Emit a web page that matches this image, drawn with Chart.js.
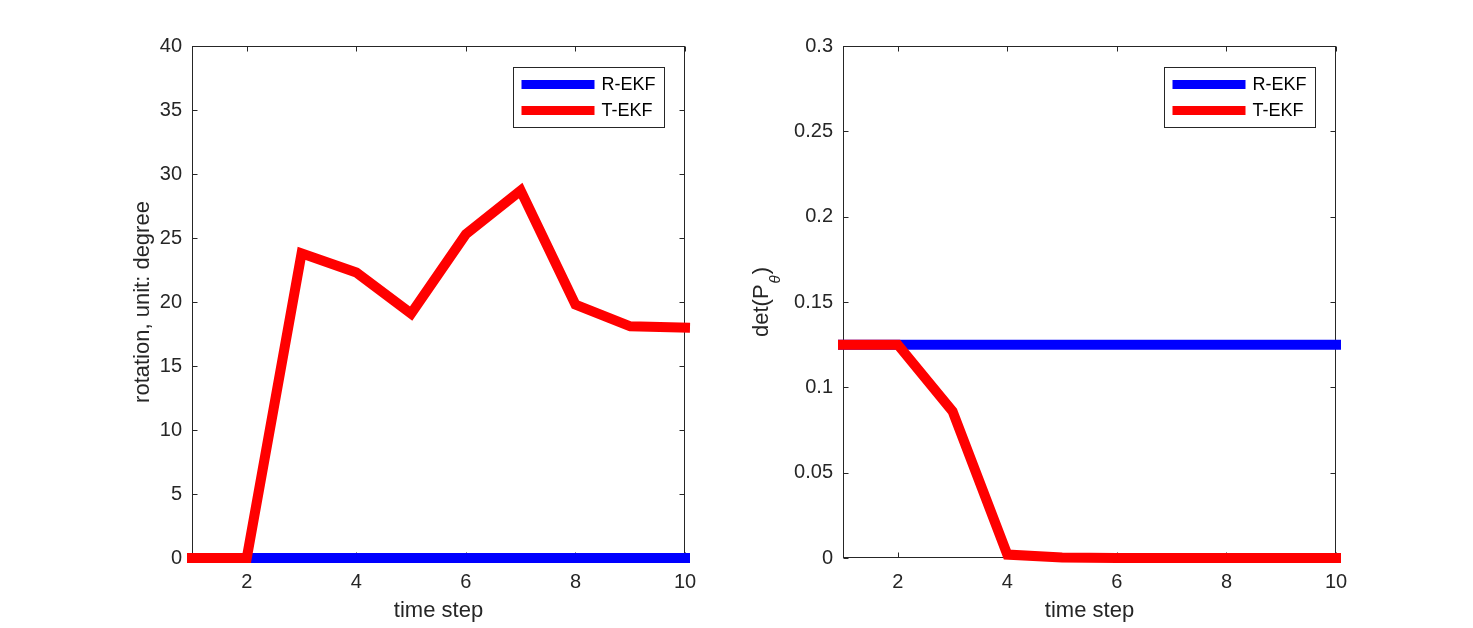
<!DOCTYPE html>
<html>
<head>
<meta charset="utf-8">
<script src="https://cdn.jsdelivr.net/npm/chart.js@4.4.0/dist/chart.umd.min.js"></script>
<style>
    body { margin: 0; background: #fff; }
    #wrap { position: relative; width: 1473px; height: 628px; overflow: hidden; background: #fff; }
    canvas { position: absolute; top: 0; }
</style>
</head>
<body>
<div id="wrap">
    <canvas id="rotChart" width="736" height="628" style="left:0px"></canvas>
    <canvas id="detChart" width="737" height="628" style="left:736px"></canvas>
</div>
<script>
// dados
const timeSteps = [1, 2, 3, 4, 5, 6, 7, 8, 9, 10];
const seriesNames = ['R-EKF', 'T-EKF'];
const rotREKF = [0, 0, 0, 0, 0, 0, 0, 0, 0, 0];
const rotTEKF = [0, 0, 23.8, 22.3, 19.1, 25.3, 28.7, 19.8, 18.1, 18.0];
const detREKF = [0.125, 0.125, 0.125, 0.125, 0.125, 0.125, 0.125, 0.125, 0.125, 0.125];
const detTEKF = [0.125, 0.125, 0.086, 0.002, 0.0003, 0, 0, 0, 0, 0];
const xTicks = [2, 4, 6, 8, 10];
const rotTicks = [0, 5, 10, 15, 20, 25, 30, 35, 40];
const detTicks = [0, 0.05, 0.1, 0.15, 0.2, 0.25, 0.3];
const detTickLabels = ['0', '0.05', '0.1', '0.15', '0.2', '0.25', '0.3'];

const FONT = '"Liberation Sans", Arial, Helvetica, sans-serif';
const AXIS_COLOR = '#262626';

const pts = (ys) => timeSteps.map((x, i) => ({ x: x, y: ys[i] }));

// caixa + marcas de tick para dentro (estilo MATLAB)
const boxPlugin = {
    id: 'boxPlugin',
    beforeDatasetsDraw(chart) {
        const { ctx, chartArea: a, scales } = chart;
        const L = Math.round(a.left) + 0.5, R = Math.round(a.right) - 0.5;
        const T = Math.round(a.top) + 0.5, B = Math.round(a.bottom) - 0.5;
        const len = 5;
        ctx.save();
        ctx.strokeStyle = AXIS_COLOR;
        ctx.lineWidth = 1;
        ctx.beginPath();
        scales.x.ticks.forEach(t => {
            const px = Math.round(scales.x.getPixelForValue(t.value)) + 0.5;
            ctx.moveTo(px, B); ctx.lineTo(px, B - len);
            ctx.moveTo(px, T); ctx.lineTo(px, T + len);
        });
        scales.y.ticks.forEach(t => {
            const py = Math.round(scales.y.getPixelForValue(t.value)) + 0.5;
            ctx.moveTo(L, py); ctx.lineTo(L + len, py);
            ctx.moveTo(R, py); ctx.lineTo(R - len, py);
        });
        ctx.stroke();
        ctx.strokeRect(L, T, R - L, B - T);
        ctx.restore();
    }
};

// legenda com borda dentro da área do gráfico
const legendBoxPlugin = {
    id: 'legendBox',
    afterDatasetsDraw(chart, args, opts) {
        const { ctx, chartArea: a } = chart;
        const w = 151, h = 60;
        const x0 = Math.round(a.right - 21 - w) + 0.5;
        const y0 = Math.round(a.top + 21) + 0.5;
        ctx.save();
        ctx.fillStyle = '#fff';
        ctx.fillRect(x0, y0, w, h);
        ctx.strokeStyle = AXIS_COLOR;
        ctx.lineWidth = 1;
        ctx.strokeRect(x0, y0, w, h);
        chart.data.datasets.forEach((ds, i) => {
            const yc = y0 + 17 + i * 26;
            ctx.strokeStyle = ds.borderColor;
            ctx.lineWidth = 9;
            ctx.lineCap = 'butt';
            ctx.beginPath();
            ctx.moveTo(x0 + 8, yc);
            ctx.lineTo(x0 + 81, yc);
            ctx.stroke();
            ctx.fillStyle = '#000';
            ctx.font = '18px ' + FONT;
            ctx.textBaseline = 'middle';
            ctx.textAlign = 'left';
            ctx.fillText(ds.label, x0 + 88, yc + 1);
        });
        ctx.restore();
    }
};

// título do eixo y (aceita subscrito)
const yTitlePlugin = {
    id: 'yTitle',
    afterDraw(chart, args, opts) {
        if (!opts.parts) return;
        const { ctx, chartArea: a } = chart;
        ctx.save();
        ctx.translate(a.left - opts.offset, (a.top + a.bottom) / 2);
        ctx.rotate(-Math.PI / 2);
        ctx.fillStyle = AXIS_COLOR;
        ctx.textBaseline = 'middle';
        ctx.textAlign = 'left';
        const fontOf = p => (p.sub ? 'italic 15px ' : '22px ') + FONT;
        let total = 0;
        opts.parts.forEach(p => { ctx.font = fontOf(p); total += ctx.measureText(p.t).width + (p.sub ? 2 : 0); });
        let x = -total / 2;
        opts.parts.forEach(p => {
            ctx.font = fontOf(p);
            ctx.fillText(p.t, x + (p.sub ? 1 : 0), p.sub ? 14 : 0);
            x += ctx.measureText(p.t).width + (p.sub ? 2 : 0);
        });
        ctx.restore();
    }
};

function makeChart(id, dataR, dataT, yTicks, yLabels, yMax, pad, yWidth, yTitleParts, yTitleOffset) {
    const canvas = document.getElementById(id);
    if (!canvas) return;
    new Chart(canvas, {
        type: 'line',
        data: {
            datasets: [
                {
                    label: seriesNames[0],
                    data: pts(dataR),
                    borderColor: '#0000ff',
                    borderWidth: 10,
                    borderCapStyle: 'square',
                    pointRadius: 0,
                    tension: 0,
                    clip: false,
                    order: 1
                },
                {
                    label: seriesNames[1],
                    data: pts(dataT),
                    borderColor: '#ff0000',
                    borderWidth: 10,
                    borderCapStyle: 'square',
                    pointRadius: 0,
                    tension: 0,
                    clip: false,
                    order: 0
                }
            ]
        },
        options: {
            responsive: false,
            animation: false,
            events: [],
            layout: { padding: pad },
            plugins: {
                legend: { display: false },
                tooltip: { enabled: false },
                yTitle: { parts: yTitleParts, offset: yTitleOffset }
            },
            scales: {
                x: {
                    type: 'linear',
                    min: 1, max: 10,
                    grid: { display: false, drawTicks: false },
                    border: { display: false },
                    afterBuildTicks: s => { s.ticks = xTicks.map(v => ({ value: v })); },
                    afterFit: s => { s.height = 70; },
                    ticks: { color: AXIS_COLOR, padding: 12, maxRotation: 0, font: { family: FONT, size: 20 } },
                    title: { display: true, text: 'time step', color: AXIS_COLOR, padding: { top: 0, bottom: 4 }, font: { family: FONT, size: 22 } }
                },
                y: {
                    min: 0, max: yMax,
                    grid: { display: false, drawTicks: false },
                    border: { display: false },
                    afterBuildTicks: s => { s.ticks = yTicks.map(v => ({ value: v })); },
                    afterFit: s => { s.width = yWidth; },
                    ticks: {
                        color: AXIS_COLOR, padding: 10,
                        font: { family: FONT, size: 20 },
                        callback: (v, i) => yLabels[i]
                    }
                }
            }
        },
        plugins: [boxPlugin, legendBoxPlugin, yTitlePlugin]
    });
}

// 1. rotação
makeChart('rotChart', rotREKF, rotTEKF, rotTicks, rotTicks.map(String), 40,
    { left: 118, right: 51, top: 46, bottom: 0 }, 74,
    [{ t: 'rotation, unit: degree' }], 49);

// 2. det(P_theta)
makeChart('detChart', detREKF, detTEKF, detTicks, detTickLabels, 0.3,
    { left: 20, right: 137, top: 46, bottom: 0 }, 87,
    [{ t: 'det(P' }, { t: 'θ', sub: true }, { t: ')' }], 81);
</script>
</body>
</html>
